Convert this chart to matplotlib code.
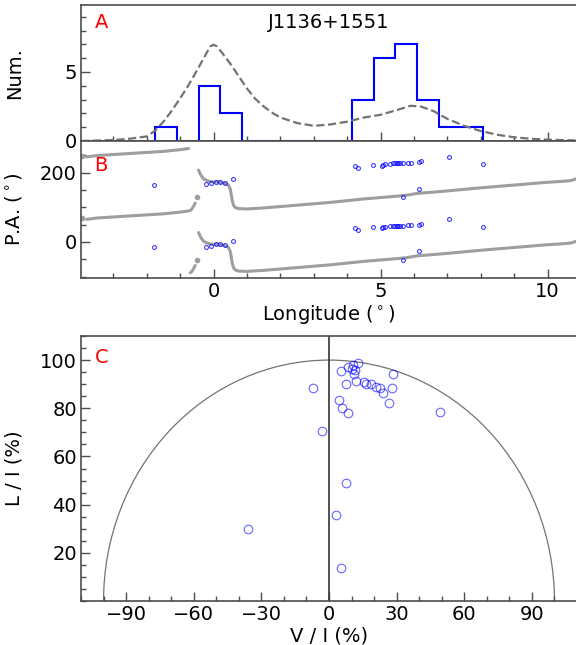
import numpy as np
import matplotlib
matplotlib.use("Agg")
import matplotlib.pyplot as plt
from matplotlib.patches import Arc
from matplotlib.ticker import MultipleLocator

# --- Panel A: component histogram + mean profile -------------------------
bin_start = -1.76
bin_width = 0.655
counts = [1, 0, 4, 2, 0, 0, 0, 0, 0, 3, 6, 7, 3, 1, 1]

prof_lon = [-3.97, -3.5, -3.0, -2.5, -2.0, -1.75, -1.5, -1.25, -1.0, -0.75,
            -0.5, -0.25, -0.1, 0.0, 0.1, 0.25, 0.5, 0.75, 1.0, 1.25, 1.5,
            1.75, 2.0, 2.5, 3.0, 3.5, 4.0, 4.5, 5.0, 5.5, 5.9, 6.2, 6.6,
            7.0, 7.5, 8.0, 8.5, 9.0, 9.5, 10.0, 10.5, 10.88]
prof_val = [0.0, 0.03, 0.07, 0.17, 0.33, 0.75, 1.4, 2.2, 3.1, 4.05,
            5.1, 6.2, 6.85, 6.97, 6.85, 6.4, 5.6, 4.7, 3.8, 3.05, 2.5,
            2.05, 1.7, 1.3, 1.1, 1.2, 1.4, 1.7, 1.9, 2.25, 2.55, 2.5, 2.15,
            1.6, 1.1, 0.72, 0.45, 0.27, 0.16, 0.1, 0.06, 0.04]

# --- Panel B: position angle ---------------------------------------------
pa1_lon = [-3.8, -3.5, -3.0, -2.5, -2.0, -1.5, -1.2, -1.0, -0.85,
           -0.75, -0.7, -0.65, -0.6, -0.55]
pa1_val = [65, 69, 72, 75, 78, 81, 84, 86, 88,
           89.5, 91, 95, 103, 112]
pa_iso_lon = [-3.95, -0.5]
pa_iso_val = [69, 129]

pa2_lon = [-0.45, -0.4, -0.35, -0.3, -0.2, -0.1, 0.0, 0.1, 0.2, 0.3, 0.4,
           0.45, 0.5, 0.53, 0.56, 0.6, 0.65, 0.75, 1.0, 1.5, 2.0, 2.5, 3.0,
           3.5, 4.0, 4.5, 5.0, 5.5, 5.8, 6.1, 6.5, 7.0, 7.5, 8.0, 8.5, 9.0,
           9.5, 10.0, 10.5, 10.7, 10.8, 10.88]
pa2_val = [27, 16, 8, 2, -3, -6, -7, -7, -8, -10, -13,
           -17, -28, -45, -62, -75, -81, -84, -85, -82, -78, -74, -70,
           -66, -61, -56, -52, -48, -45, -40, -37, -33, -28.5, -24, -20, -16,
           -12, -8, -5, -3, 0, 3]

comp_lon = [-1.78, -0.22, -0.07, 0.08, 0.18, 0.33, 0.58, 4.22, 4.33, 4.77,
            5.05, 5.08, 5.12, 5.28, 5.37, 5.43, 5.48, 5.53, 5.58, 5.66,
            5.68, 5.83, 5.92, 6.16, 6.16, 6.20, 7.04, 8.06]
comp_pa = [-16, -14, -11, -7, -7, -9, 2, 40, 34, 42,
           39, 42, 44, 46, 47, 47, 47, 47, 47, 47,
           -51, 48, 48, 50, -27, 52, 66, 44]

# --- Panel C: circular vs linear polarisation ----------------------------
v_frac = [12.7, 10.8, 8.3, 11.6, 10.2, 5.2, 11.0, 28.3, 7.4, 12.1, 15.7, 16.4,
          18.7, 20.9, 22.5, 23.9, 27.9, 26.5, -7.0, 4.3, 5.9, 8.4, 49.3,
          -3.1, 7.4, 3.1, -35.9, 5.3]
l_frac = [98.9, 97.9, 97.0, 95.9, 96.5, 95.4, 94.2, 94.2, 89.9, 91.2, 91.0, 89.9,
          90.0, 88.7, 88.3, 86.2, 88.4, 82.0, 88.5, 83.3, 80.2, 78.1, 78.5,
          70.5, 49.1, 35.7, 29.9, 13.5]

FS = 14
plt.rcParams['font.size'] = FS
SPINE = '0.3'
PA_GREY = '0.62'


def wrap(pa):
    return (np.asarray(pa, float) + 90.0) % 180.0 - 90.0


def plot_pa(ax, lon, pa, **kw):
    lon = np.asarray(lon, float)
    w = wrap(pa)
    jumps = np.where(np.abs(np.diff(w)) > 90)[0] + 1
    lon_b = np.insert(lon, jumps, np.nan)
    w_b = np.insert(w, jumps, np.nan)
    ax.plot(lon_b, w_b, **kw)
    ax.plot(lon_b, w_b + 180, **kw)


def style(ax):
    for s in ax.spines.values():
        s.set_color(SPINE)
        s.set_linewidth(1.2)
    ax.tick_params(which='both', direction='in', color=SPINE, width=1.0,
                   top=False, right=False, labelsize=FS, pad=3)
    ax.tick_params(which='major', length=6.5)
    ax.tick_params(which='minor', length=3.5)


fig = plt.figure(figsize=(5.76, 6.45), dpi=100)
left, width = 81 / 576, 496 / 576
ax_a = fig.add_axes([left, 1 - 141 / 645, width, 136 / 645])
ax_b = fig.add_axes([left, 1 - 278 / 645, width, 137 / 645], sharex=ax_a)
ax_c = fig.add_axes([left, 1 - 601 / 645, width, 265 / 645])

# Panel A
edges = bin_start + bin_width * np.arange(len(counts) + 1)
ax_a.stairs(counts, edges, color='blue', lw=1.5)
ax_a.plot(prof_lon, prof_val, color='0.45', lw=1.6, ls='--')
ax_a.set_xlim(-3.97, 10.88)
ax_a.set_ylim(0, 9.85)
ax_a.yaxis.set_major_locator(MultipleLocator(5))
ax_a.yaxis.set_minor_locator(MultipleLocator(1))
ax_a.xaxis.set_major_locator(MultipleLocator(5))
ax_a.xaxis.set_minor_locator(MultipleLocator(1))
ax_a.tick_params(labelbottom=False)
ax_a.set_ylabel('Num.', fontsize=FS)
ax_a.text(0.5, 0.87, 'J1136+1551', transform=ax_a.transAxes, ha='center',
          va='center', fontsize=FS)
ax_a.text(0.027, 0.87, 'A', transform=ax_a.transAxes, ha='left',
          va='center', color='red', fontsize=FS)
style(ax_a)

# Panel B
plot_pa(ax_b, pa1_lon, pa1_val, color=PA_GREY, lw=2.2, solid_capstyle='round')
plot_pa(ax_b, pa2_lon, pa2_val, color=PA_GREY, lw=2.2, solid_capstyle='round')
iw = wrap(pa_iso_val)
for off in (0, 180):
    ax_b.plot(pa_iso_lon, iw + off, 'o', ms=3, color=PA_GREY)
cw = wrap(comp_pa)
for off in (0, 180):
    ax_b.plot(comp_lon, cw + off, 'o', ms=2.8, mfc='none', mec='blue',
              mew=0.8, alpha=0.75)
ax_b.set_ylim(-104, 291)
ax_b.yaxis.set_major_locator(MultipleLocator(200))
ax_b.yaxis.set_minor_locator(MultipleLocator(50))
ax_b.set_ylabel('P.A. ($^\\circ$)', fontsize=FS)
ax_b.set_xlabel('Longitude ($^\\circ$)', fontsize=FS, labelpad=1)
ax_b.text(0.027, 0.82, 'B', transform=ax_b.transAxes, ha='left',
          va='center', color='red', fontsize=FS)
style(ax_b)

# Panel C
ax_c.add_patch(Arc((0, 0), 200, 200, theta1=0, theta2=180, color='0.45',
                   lw=0.9))
ax_c.axvline(0, color='0.2', lw=1.2)
ax_c.plot(v_frac, l_frac, 'o', ms=6.2, mfc='none', mec='blue', mew=0.8,
          alpha=0.6)
ax_c.set_xlim(-110, 110)
ax_c.set_ylim(0, 110)
ax_c.xaxis.set_major_locator(MultipleLocator(30))
ax_c.xaxis.set_minor_locator(MultipleLocator(10))
ax_c.set_yticks([20, 40, 60, 80, 100])
ax_c.yaxis.set_minor_locator(MultipleLocator(5))
ax_c.set_xlabel('V / I (%)', fontsize=FS, labelpad=2)
ax_c.set_ylabel('L / I (%)', fontsize=FS)
ax_c.text(0.027, 0.917, 'C', transform=ax_c.transAxes, ha='left',
          va='center', color='red', fontsize=FS)
style(ax_c)

for ax in (ax_a, ax_b, ax_c):
    ax.yaxis.set_label_coords(-0.115, 0.5)

fig.savefig('out.png', dpi=100)
